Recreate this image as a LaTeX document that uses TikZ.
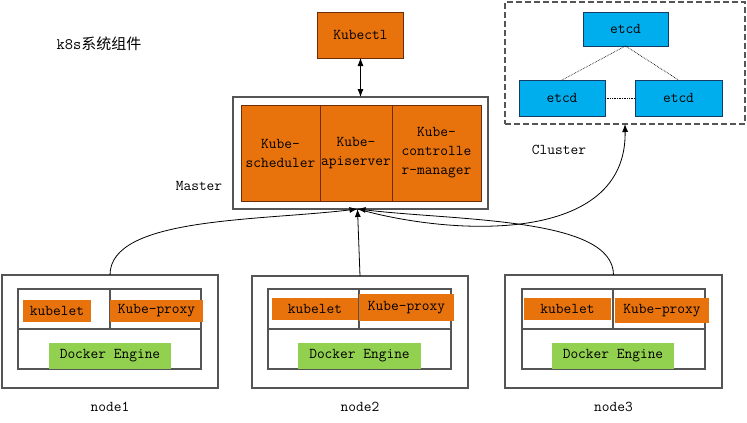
\documentclass[tikz,border=0pt]{standalone}
\usepackage{fontspec}
\newfontfamily\cjkfont{Noto Sans CJK SC}
\usetikzlibrary{positioning,arrows.meta}
\definecolor{korange}{RGB}{232,114,12}
\definecolor{kbrown}{RGB}{110,45,8}
\definecolor{kblue}{RGB}{0,174,238}
\definecolor{kblueline}{RGB}{20,60,100}
\definecolor{kgreen}{RGB}{146,208,80}
\definecolor{kgray}{RGB}{85,85,85}

\begin{document}
\begin{tikzpicture}[x=1pt, y=-1pt,
        font=\ttfamily\fontsize{15}{19}\selectfont,
        >={Latex[length=8pt,width=6pt]},
        every node/.style={inner sep=0pt, outer sep=0pt},
        dims/.style 2 args={minimum width=#1, minimum height=#2},
        frame/.style={draw=kgray, line width=1.1pt},
        cell/.style={draw=kgray, line width=1.1pt},
        orangebox/.style={fill=korange, draw=kbrown, line width=0.8pt, align=center},
        tagbox/.style={fill=korange},
        etcdbox/.style={fill=kblue, draw=kblueline, line width=0.8pt},
        dockerbox/.style={fill=kgreen},
        link/.style={line width=0.8pt},
        peer/.style={densely dotted, line width=0.7pt}]
        \useasboundingbox (0,0) rectangle (747,423);

        \node (title) at (99,44) {\fontsize{16}{18}\selectfont k8s{\cjkfont\fontsize{15}{18}\selectfont 系统组件}};

        % master
        \node[frame, dims={255pt}{112pt}] (master) at (360.5,153) {};
        \node[orangebox, dims={79pt}{96pt}] (sched) at (280.5,153) {Kube-\\scheduler};
        \node[orangebox, dims={72pt}{96pt}, right=0pt of sched] (api) {Kube-\\apiserver};
        \node[orangebox, dims={89pt}{96pt}, right=0pt of api] (ctrl) {Kube-\\controlle\\r-manager};
        \node (masterlabel) at (199,186) {Master};
        \node[orangebox, dims={86pt}{46pt}, above=39pt of master] (kubectl) {Kubectl};

        % cluster
        \node[draw=kgray, dash pattern=on 6pt off 3pt, line width=1.1pt, dims={240pt}{122pt}] (cluster) at (625,63) {};
        \node[etcdbox, dims={85pt}{34pt}] (etcdtop) at (625.5,29) {etcd};
        \node[etcdbox, dims={86pt}{36pt}] (etcdleft) at (562,98) {etcd};
        \node[etcdbox, dims={87pt}{36pt}] (etcdright) at (678.5,98) {etcd};
        \node (clusterlabel) at (559,150) {Cluster};

        % node1
        \node[frame, dims={216pt}{113pt}] (n1) at (110,331.5) {};
        \node[cell, dims={92pt}{40pt}] (n1a) at (64,309) {};
        \node[cell, dims={91pt}{40pt}, right=0pt of n1a] (n1b) {};
        \node[cell, dims={183pt}{40pt}] (n1c) at (109.5,349) {};
        \node[tagbox, dims={68pt}{22pt}] (kubelet1) at (57,311) {kubelet};
        \node[tagbox, dims={93pt}{22pt}] (proxy1) at (156.5,311) {Kube-proxy};
        \node[dockerbox, dims={122pt}{26pt}] (docker1) at (110,356) {Docker Engine};
        \node[below=14pt of n1] (label1) {node1};

        % node2
        \node[frame, dims={216pt}{112pt}] (n2) at (360,332) {};
        \node[cell, dims={91pt}{40pt}] (n2a) at (313.5,309) {};
        \node[cell, dims={92pt}{40pt}, right=0pt of n2a] (n2b) {};
        \node[cell, dims={183pt}{40pt}] (n2c) at (359.5,349) {};
        \node[tagbox, dims={86pt}{22pt}] (kubelet2) at (315,309) {kubelet};
        \node[tagbox, dims={95pt}{27pt}] (proxy2) at (406.5,307.5) {Kube-proxy};
        \node[dockerbox, dims={123pt}{26pt}] (docker2) at (359.5,356) {Docker Engine};
        \node[below=14pt of n2] (label2) {node2};

        % node3
        \node[frame, dims={217pt}{113pt}] (n3) at (613.5,331.5) {};
        \node[cell, dims={91pt}{40pt}] (n3a) at (567.5,309) {};
        \node[cell, dims={92pt}{40pt}, right=0pt of n3a] (n3b) {};
        \node[cell, dims={183pt}{40pt}] (n3c) at (613.5,349) {};
        \node[tagbox, dims={87pt}{22pt}] (kubelet3) at (567.5,309) {kubelet};
        \node[tagbox, dims={94pt}{25pt}] (proxy3) at (662,310.5) {Kube-proxy};
        \node[dockerbox, dims={122pt}{26pt}] (docker3) at (613,356) {Docker Engine};
        \node[below=14pt of n3] (label3) {node3};

        \draw[<->, link] (kubectl) -- (master);
        \draw[peer] (etcdtop.south) -- (etcdleft.north);
        \draw[peer] (etcdtop.south) -- (etcdright.north);
        \draw[peer] (etcdleft) -- (etcdright);
        \draw[->, link] (n1.north) .. controls +(0,-58) and +(-100,12) .. ([xshift=-3pt]master.south);
        \draw[->, link] (n2.north) -- ([xshift=-3pt]master.south);
        \draw[->, link] (n3.north) .. controls +(0,-58) and +(100,12) .. ([xshift=-3pt]master.south);
        \draw[->, link] ([xshift=-3pt]master.south) .. controls +(95,27) and +(2,121) .. (cluster.south);
\end{tikzpicture}
\end{document}
